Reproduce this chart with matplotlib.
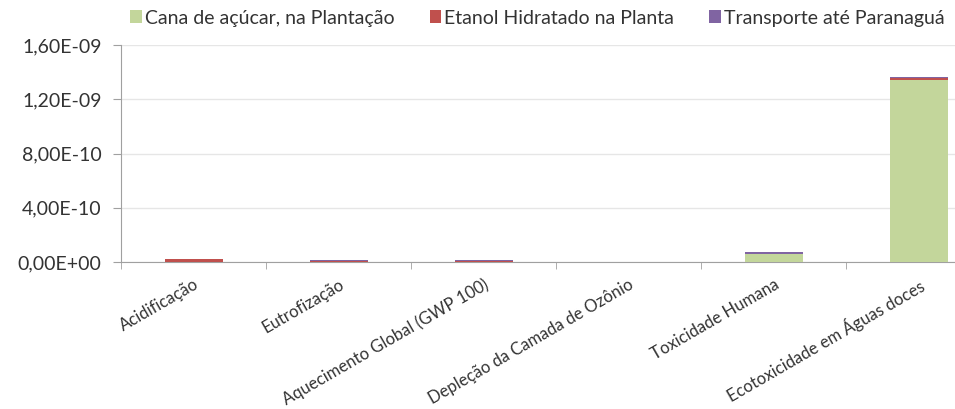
import numpy as np
import matplotlib.pyplot as plt
from matplotlib.ticker import FuncFormatter

plt.rcParams['font.family'] = ['Lato', 'DejaVu Sans']

categorias = ['Acidificação', 'Eutrofização', 'Aquecimento Global (GWP 100)',
              'Depleção da Camada de Ozônio', 'Toxicidade Humana',
              'Ecotoxicidade em Águas doces']
series = ['Cana de açúcar, na Plantação', 'Etanol Hidratado na Planta',
          'Transporte até Paranaguá']
cana = [0.2e-11, 0.3e-11, 0.3e-11, 0.0, 6.0e-11, 1.345e-9]
etanol = [1.8e-11, 0.2e-11, 0.2e-11, 0.0, 0.2e-11, 1.0e-11]
transp = [0.2e-11, 1.2e-11, 1.2e-11, 0.0, 1.3e-11, 0.6e-11]
cores = ['#C3D69B', '#C0504D', '#8064A2']

fig = plt.figure(figsize=(9.55, 4.09), dpi=100)
# o grafico original estava cortado a direita
ax = fig.add_axes([121 / 955, 0.359, 870 / 955, 0.531])

x = np.arange(len(categorias))
base = np.zeros(len(categorias))
handles = []
for nome, vals, cor in zip(series, [cana, etanol, transp], cores):
    h = ax.bar(x, vals, 0.4, bottom=base, color=cor, label=nome, zorder=3)
    handles.append(h)
    base += np.array(vals)

ax.set_xlim(-0.5, len(categorias) - 0.5)
ax.set_ylim(0, 1.6e-9)
ax.set_yticks(np.arange(0, 1.61e-9, 4e-10))


def fmt(v, pos):
    s = '%.2E' % v
    return s.replace('.', ',')


ax.yaxis.set_major_formatter(FuncFormatter(fmt))
ax.yaxis.grid(True, color='#E6E6E6', linewidth=1, zorder=0)
ax.set_xticks(x)
ax.set_xticklabels(categorias, rotation=30, ha='right', rotation_mode='anchor',
                   fontsize=12, color='#333333')
ax.tick_params(axis='x', length=0, pad=10)
ax.set_xticks(np.arange(-0.5, len(categorias), 1), minor=True)
ax.tick_params(axis='x', which='minor', length=5, color='#A0A0A0')
ax.tick_params(axis='y', length=6, pad=8, color='#A0A0A0', labelsize=14,
               labelcolor='#333333')
for s in ['top', 'right']:
    ax.spines[s].set_visible(False)
for s in ['left', 'bottom']:
    ax.spines[s].set_color('#A0A0A0')

leg = fig.legend(handles=handles, loc='upper right', bbox_to_anchor=(1.003, 1.01),
                 ncol=3, frameon=False, fontsize=14, handlelength=0.6,
                 handleheight=0.6, handletextpad=0.15, columnspacing=1.8,
                 borderaxespad=0.3)
for t in leg.get_texts():
    t.set_color('#333333')

fig.savefig('out.png', dpi=100)
